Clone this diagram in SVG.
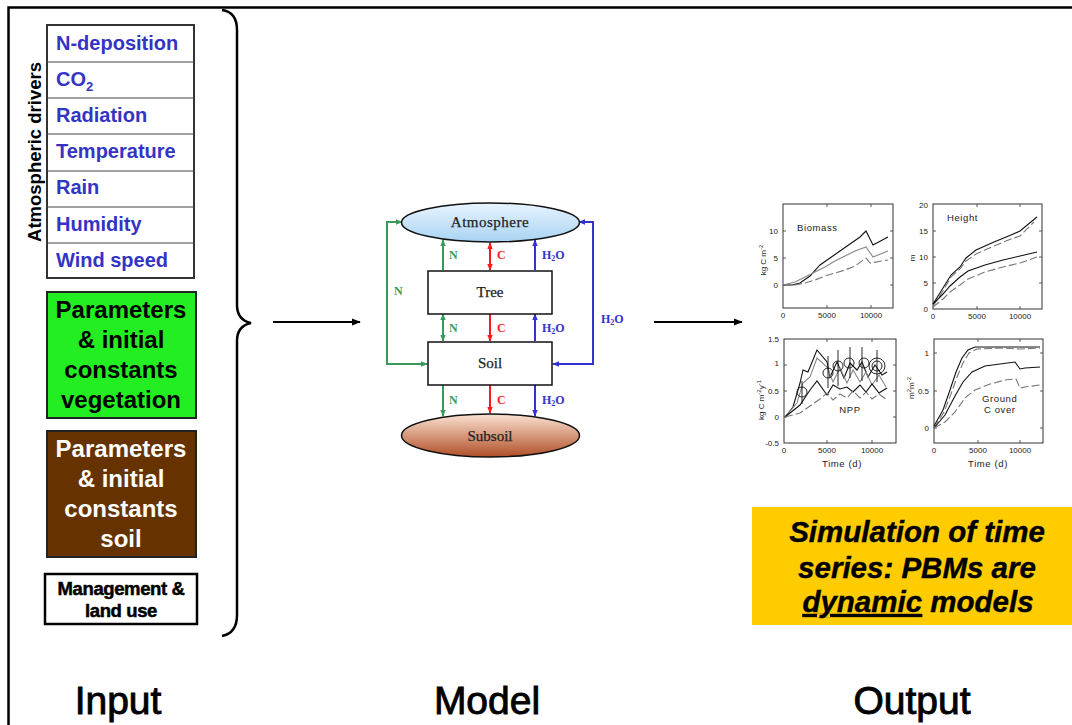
<svg xmlns="http://www.w3.org/2000/svg" width="1072" height="725" viewBox="0 0 1072 725">
<style>
.drv{font-family:"Liberation Sans",Arial,sans-serif;font-weight:bold;font-size:20px;fill:#3434c4}
.par{font-family:"Liberation Sans",Arial,sans-serif;font-weight:bold;font-size:24px;text-anchor:middle}
.big{font-family:"Liberation Sans",Arial,sans-serif;font-size:39px;text-anchor:middle;fill:#000;stroke:#000;stroke-width:0.9}
.mod{font-family:"Liberation Serif","Times New Roman",serif;font-size:15px;text-anchor:middle;fill:#222;stroke:#222;stroke-width:0.25}
.fl{font-family:"Liberation Serif","Times New Roman",serif;font-weight:bold;font-size:12px}
.tk{font-family:"Liberation Sans",Arial,sans-serif;font-size:8px;fill:#222}
.lb{font-family:"Liberation Sans",Arial,sans-serif;font-size:9.5px;fill:#222;letter-spacing:0.6px}
.ax{fill:#fff;stroke:#333;stroke-width:1}
.cb{fill:none;stroke:#111;stroke-width:1.1}
.cg{fill:none;stroke:#888;stroke-width:1.1}
.cd{fill:none;stroke:#777;stroke-width:1.1;stroke-dasharray:8 3}
</style>
<defs>
<marker id="ag" viewBox="0 0 10 10" refX="9" refY="5" markerWidth="7" markerHeight="7" markerUnits="userSpaceOnUse" orient="auto-start-reverse"><path d="M0,1 L10,5 L0,9 z" fill="#3a9a5b"/></marker>
<marker id="ar" viewBox="0 0 10 10" refX="9" refY="5" markerWidth="7" markerHeight="7" markerUnits="userSpaceOnUse" orient="auto-start-reverse"><path d="M0,1 L10,5 L0,9 z" fill="#ff1a1a"/></marker>
<marker id="ab" viewBox="0 0 10 10" refX="9" refY="5" markerWidth="7" markerHeight="7" markerUnits="userSpaceOnUse" orient="auto-start-reverse"><path d="M0,1 L10,5 L0,9 z" fill="#3333cc"/></marker>
<marker id="ak" viewBox="0 0 10 10" refX="9" refY="5" markerWidth="9" markerHeight="9" markerUnits="userSpaceOnUse" orient="auto"><path d="M0,1 L10,5 L0,9 z" fill="#000"/></marker>
<linearGradient id="gAtm" x1="0" y1="0" x2="0" y2="1"><stop offset="0" stop-color="#e8f4ff"/><stop offset="1" stop-color="#a9d3f2"/></linearGradient>
<linearGradient id="gSub" x1="0" y1="0" x2="0" y2="1"><stop offset="0" stop-color="#fbe2d2"/><stop offset="1" stop-color="#b04f28"/></linearGradient>
</defs>
<rect width="1072" height="725" fill="#fff"/>
<!-- frame -->
<path d="M8.5 725 L8.5 7.5 L1072 7.5" fill="none" stroke="#000" stroke-width="2.5"/>

<!-- Input column -->
<g id="atmospheric-drivers">
<rect x="47" y="25" width="147" height="253" fill="#fff" stroke="#333" stroke-width="2"/>
<g stroke="#444" stroke-width="1.2">
<line x1="47" y1="62" x2="194" y2="62"/><line x1="47" y1="98" x2="194" y2="98"/><line x1="47" y1="134" x2="194" y2="134"/><line x1="47" y1="171" x2="194" y2="171"/><line x1="47" y1="207" x2="194" y2="207"/><line x1="47" y1="243" x2="194" y2="243"/>
</g>
<text class="drv" x="56" y="50">N-deposition</text>
<text class="drv" x="56" y="86">CO<tspan font-size="13" dy="5">2</tspan></text>
<text class="drv" x="56" y="122">Radiation</text>
<text class="drv" x="56" y="158">Temperature</text>
<text class="drv" x="56" y="194">Rain</text>
<text class="drv" x="56" y="231">Humidity</text>
<text class="drv" x="56" y="267">Wind speed</text>
<text transform="translate(41,152) rotate(-90)" text-anchor="middle" font-family="Liberation Sans,Arial,sans-serif" font-weight="bold" font-size="18.5" fill="#000">Atmospheric drivers</text>
</g>
<g id="params-vegetation">
<rect x="47" y="292" width="149" height="126" fill="#22ee22" stroke="#222" stroke-width="2"/>
<text class="par" x="121" y="318" fill="#000">Parameters</text>
<text class="par" x="121" y="348" fill="#000">&amp; initial</text>
<text class="par" x="121" y="378" fill="#000">constants</text>
<text class="par" x="121" y="408" fill="#000">vegetation</text>
</g>
<g id="params-soil">
<rect x="47" y="431" width="149" height="126" fill="#663300" stroke="#222" stroke-width="2"/>
<text class="par" x="121" y="457" fill="#fff">Parameters</text>
<text class="par" x="121" y="487" fill="#fff">&amp; initial</text>
<text class="par" x="121" y="517" fill="#fff">constants</text>
<text class="par" x="121" y="547" fill="#fff">soil</text>
</g>
<g id="management">
<rect x="45" y="574" width="152" height="50" fill="#fff" stroke="#000" stroke-width="2.5"/>
<g font-family="Liberation Sans,Arial,sans-serif" font-weight="bold" font-size="18.5" letter-spacing="-0.4" fill="#000" stroke="#000" stroke-width="0.5" text-anchor="middle">
<text x="121" y="595">Management &amp;</text>
<text x="121" y="617">land use</text>
</g>
</g>
<g id="brace">
<path d="M222 10 Q237 12 237 30 L237 305 Q237 320 251 323 Q237 326 237 341 L237 615 Q237 633 222 636" fill="none" stroke="#000" stroke-width="2.5"/>
</g>

<!-- main arrows -->
<g id="connectors">
<line x1="273" y1="322" x2="360" y2="322" stroke="#000" stroke-width="2" marker-end="url(#ak)"/>
<line x1="654" y1="322" x2="742" y2="322" stroke="#000" stroke-width="2" marker-end="url(#ak)"/>
<!-- model flows -->
<g stroke-width="2" fill="none">
<line x1="443" y1="270" x2="443" y2="240" stroke="#3a9a5b" marker-end="url(#ag)"/>
<line x1="490" y1="270" x2="490" y2="243" stroke="#ff1a1a" marker-start="url(#ar)" marker-end="url(#ar)"/>
<line x1="535" y1="270" x2="535" y2="240" stroke="#3333cc" marker-end="url(#ab)"/>
<line x1="443" y1="314" x2="443" y2="341" stroke="#3a9a5b" marker-start="url(#ag)" marker-end="url(#ag)"/>
<line x1="490" y1="314" x2="490" y2="341" stroke="#ff1a1a" marker-end="url(#ar)"/>
<line x1="535" y1="341" x2="535" y2="314" stroke="#3333cc" marker-end="url(#ab)"/>
<line x1="443" y1="385" x2="443" y2="416" stroke="#3a9a5b" marker-end="url(#ag)"/>
<line x1="490" y1="385" x2="490" y2="413" stroke="#ff1a1a" marker-end="url(#ar)"/>
<line x1="535" y1="385" x2="535" y2="416" stroke="#3333cc" marker-end="url(#ab)"/>
<path d="M402 222 L387 222 L387 364 L427 364" stroke="#3a9a5b" marker-start="url(#ag)" marker-end="url(#ag)"/>
<path d="M579 222 L593 222 L593 364 L553 364" stroke="#3333cc" marker-start="url(#ab)" marker-end="url(#ab)"/>
</g>
<g class="fl">
<text x="449" y="259" fill="#3a9a5b">N</text>
<text x="497" y="259" fill="#ff1a1a">C</text>
<text x="542" y="259" fill="#3333cc">H<tspan font-size="8" dy="2">2</tspan><tspan dy="-2">O</tspan></text>
<text x="449" y="332" fill="#3a9a5b">N</text>
<text x="497" y="332" fill="#ff1a1a">C</text>
<text x="542" y="332" fill="#3333cc">H<tspan font-size="8" dy="2">2</tspan><tspan dy="-2">O</tspan></text>
<text x="449" y="404" fill="#3a9a5b">N</text>
<text x="497" y="404" fill="#ff1a1a">C</text>
<text x="542" y="404" fill="#3333cc">H<tspan font-size="8" dy="2">2</tspan><tspan dy="-2">O</tspan></text>
<text x="394" y="295" fill="#3a9a5b">N</text>
<text x="601" y="323" fill="#3333cc">H<tspan font-size="8" dy="2">2</tspan><tspan dy="-2">O</tspan></text>
</g>
</g>

<!-- Model nodes -->
<g id="atmosphere">
<ellipse cx="490.5" cy="222.5" rx="89" ry="19.5" fill="url(#gAtm)" stroke="#111" stroke-width="1.5"/>
<text class="mod" x="490" y="227" letter-spacing="0.5">Atmosphere</text>
</g>
<g id="tree">
<rect x="428" y="271" width="124" height="43" fill="#fff" stroke="#111" stroke-width="1.5"/>
<text class="mod" x="490" y="297">Tree</text>
</g>
<g id="soil">
<rect x="428" y="342" width="124" height="43" fill="#fff" stroke="#111" stroke-width="1.5"/>
<text class="mod" x="490" y="368">Soil</text>
</g>
<g id="subsoil">
<ellipse cx="490.5" cy="435.5" rx="89" ry="21.5" fill="url(#gSub)" stroke="#111" stroke-width="1.5"/>
<text class="mod" x="490" y="441">Subsoil</text>
</g>

<!-- Charts -->
<g id="chart-biomass">
<rect class="ax" x="783" y="204" width="110" height="104"/>
<g stroke="#333" stroke-width="0.8">
<line x1="783" y1="231" x2="786" y2="231"/><line x1="783" y1="258" x2="786" y2="258"/><line x1="783" y1="285" x2="786" y2="285"/>
<line x1="893" y1="231" x2="890" y2="231"/><line x1="893" y1="258" x2="890" y2="258"/><line x1="893" y1="285" x2="890" y2="285"/>
<line x1="827" y1="308" x2="827" y2="305"/><line x1="871" y1="308" x2="871" y2="305"/><line x1="827" y1="204" x2="827" y2="207"/><line x1="871" y1="204" x2="871" y2="207"/>
</g>
<text class="tk" x="778" y="234" text-anchor="end">10</text>
<text class="tk" x="778" y="261" text-anchor="end">5</text>
<text class="tk" x="778" y="288" text-anchor="end">0</text>
<text class="tk" x="783" y="318" text-anchor="middle">0</text>
<text class="tk" x="827" y="318" text-anchor="middle">5000</text>
<text class="tk" x="871" y="318" text-anchor="middle">10000</text>
<text class="lb" x="797" y="231">Biomass</text>
<text class="tk" transform="translate(766,260) rotate(-90)" text-anchor="middle">kg C m<tspan font-size="6" dy="-3">-2</tspan></text>
<polyline class="cb" points="783,285 792,285 800,283 810,276 820,265 830,258 840,251 850,244 860,237 866,231 873,245 888,237"/>
<polyline class="cg" points="783,285 795,282 805,277 815,272 825,267 835,261 845,256 855,251 866,247 873,257 888,251"/>
<polyline class="cd" points="783,285 795,285 805,283 815,280 825,276 835,273 845,270 855,266 866,258 870,263 888,260"/>
</g>

<g id="chart-height">
<rect class="ax" x="933" y="204" width="109" height="105"/>
<g stroke="#333" stroke-width="0.8">
<line x1="933" y1="231" x2="936" y2="231"/><line x1="933" y1="257" x2="936" y2="257"/><line x1="933" y1="283" x2="936" y2="283"/>
<line x1="1042" y1="231" x2="1039" y2="231"/><line x1="1042" y1="257" x2="1039" y2="257"/><line x1="1042" y1="283" x2="1039" y2="283"/>
<line x1="977" y1="309" x2="977" y2="306"/><line x1="1020" y1="309" x2="1020" y2="306"/><line x1="977" y1="204" x2="977" y2="207"/><line x1="1020" y1="204" x2="1020" y2="207"/>
</g>
<text class="tk" x="928" y="208" text-anchor="end">20</text>
<text class="tk" x="928" y="234" text-anchor="end">15</text>
<text class="tk" x="928" y="260" text-anchor="end">10</text>
<text class="tk" x="928" y="286" text-anchor="end">5</text>
<text class="tk" x="928" y="312" text-anchor="end">0</text>
<text class="tk" x="933" y="319" text-anchor="middle">0</text>
<text class="tk" x="977" y="319" text-anchor="middle">5000</text>
<text class="tk" x="1020" y="319" text-anchor="middle">10000</text>
<text class="lb" x="947" y="221">Height</text>
<text class="tk" transform="translate(915,258) rotate(-90)" text-anchor="middle">m</text>
<polyline class="cb" points="933,304 943,288 951,275 960,267 966,258 976,250 994,242 1011,235 1020,231 1037,217"/>
<polyline class="cd" points="933,306 943,291 951,277 960,269 966,261 976,254 994,246 1011,239 1020,236 1034,222"/>
<polyline class="cb" points="933,304 943,294 950,286 960,277 968,271 985,265 1003,260 1020,256 1037,252"/>
<polyline class="cd" points="933,307 943,299 950,292 960,285 968,279 985,272 1003,267 1020,263 1037,257"/>
</g>

<g id="chart-npp">
<rect class="ax" x="784" y="339" width="112" height="104"/>
<g stroke="#333" stroke-width="0.8">
<line x1="784" y1="365" x2="787" y2="365"/><line x1="784" y1="391" x2="787" y2="391"/><line x1="784" y1="417" x2="787" y2="417"/>
<line x1="896" y1="365" x2="893" y2="365"/><line x1="896" y1="391" x2="893" y2="391"/><line x1="896" y1="417" x2="893" y2="417"/>
<line x1="827" y1="443" x2="827" y2="440"/><line x1="872" y1="443" x2="872" y2="440"/><line x1="827" y1="339" x2="827" y2="342"/><line x1="872" y1="339" x2="872" y2="342"/>
</g>
<text class="tk" x="779" y="342" text-anchor="end">1.5</text>
<text class="tk" x="779" y="366" text-anchor="end">1</text>
<text class="tk" x="779" y="394" text-anchor="end">0.5</text>
<text class="tk" x="779" y="420" text-anchor="end">0</text>
<text class="tk" x="779" y="446" text-anchor="end">-0.5</text>
<text class="tk" x="784" y="453" text-anchor="middle">0</text>
<text class="tk" x="827" y="453" text-anchor="middle">5000</text>
<text class="tk" x="872" y="453" text-anchor="middle">10000</text>
<text class="lb" x="842" y="467" text-anchor="middle">Time (d)</text>
<text class="lb" x="850" y="413" text-anchor="middle">NPP</text>
<text class="tk" transform="translate(764,400) rotate(-90)" text-anchor="middle">kg C m<tspan font-size="6" dy="-3">-2</tspan><tspan dy="3">y</tspan><tspan font-size="6" dy="-3">-1</tspan></text>
<polyline class="cb" points="785,417 793,407 800,383 803,370 808,372 817,350 827,362 830,377 837,362 844,378 850,363 857,370 862,362 868,377 875,365 882,375 887,372"/>
<polyline class="cg" points="785,417 797,403 803,383 810,377 817,358 827,367 833,382 840,368 847,383 853,370 860,382 866,372 872,385 879,375 886,387"/>
<polyline class="cb" points="785,417 800,405 810,390 817,381 827,395 833,385 840,389 847,387 853,392 860,385 866,392 872,384 879,393 887,388"/>
<polyline class="cd" points="785,417 800,413 810,406 820,399 827,393 833,400 840,394 847,398 853,391 860,398 866,392 872,399 879,394 887,400"/>
<g fill="none" stroke="#111" stroke-width="0.9">
<line x1="802" y1="381" x2="802" y2="404"/><circle cx="802" cy="392" r="5"/>
<line x1="828" y1="356" x2="828" y2="388"/><circle cx="828" cy="373" r="5"/>
<line x1="838" y1="350" x2="838" y2="386"/><circle cx="838" cy="366" r="5"/>
<line x1="850" y1="347" x2="850" y2="378"/><circle cx="849" cy="363" r="5"/>
<line x1="862" y1="347" x2="862" y2="381"/><circle cx="864" cy="363" r="5"/>
<line x1="877" y1="350" x2="877" y2="382"/><circle cx="877" cy="366" r="5"/><circle cx="877" cy="366" r="8"/>
</g>
</g>

<g id="chart-groundcover">
<rect class="ax" x="934" y="339" width="109" height="104"/>
<g stroke="#333" stroke-width="0.8">
<line x1="934" y1="353" x2="937" y2="353"/><line x1="934" y1="391" x2="937" y2="391"/><line x1="934" y1="428" x2="937" y2="428"/>
<line x1="1043" y1="353" x2="1040" y2="353"/><line x1="1043" y1="391" x2="1040" y2="391"/><line x1="1043" y1="428" x2="1040" y2="428"/>
<line x1="978" y1="443" x2="978" y2="440"/><line x1="1020" y1="443" x2="1020" y2="440"/><line x1="978" y1="339" x2="978" y2="342"/><line x1="1020" y1="339" x2="1020" y2="342"/>
</g>
<text class="tk" x="929" y="356" text-anchor="end">1</text>
<text class="tk" x="929" y="394" text-anchor="end">0.5</text>
<text class="tk" x="929" y="431" text-anchor="end">0</text>
<text class="tk" x="934" y="453" text-anchor="middle">0</text>
<text class="tk" x="978" y="453" text-anchor="middle">5000</text>
<text class="tk" x="1020" y="453" text-anchor="middle">10000</text>
<text class="lb" x="988" y="467" text-anchor="middle">Time (d)</text>
<text class="lb" x="982" y="402">Ground</text>
<text class="lb" x="984" y="413">C over</text>
<text class="tk" transform="translate(914,388) rotate(-90)" text-anchor="middle">m<tspan font-size="6" dy="-3">2</tspan><tspan dy="3">m</tspan><tspan font-size="6" dy="-3">-2</tspan></text>
<polyline class="cb" points="934,426 943,410 950,390 956,372 962,358 968,350 975,347 1000,347 1020,347 1040,347"/>
<polyline class="cd" points="934,428 944,412 951,394 957,377 963,363 969,353 977,349 1000,348 1020,349 1040,348"/>
<polyline class="cb" points="934,428 945,415 955,396 963,382 972,372 985,366 1000,364 1015,362 1020,369 1025,368 1040,367"/>
<polyline class="cd" points="934,428 945,422 955,412 965,398 975,390 990,384 1005,380 1016,379 1020,388 1025,387 1040,385"/>
</g>

<g id="simulation-note">
<rect x="752" y="507" width="320" height="118" fill="#ffcc00"/>
<g font-family="Liberation Sans,Arial,sans-serif" font-weight="bold" font-style="italic" font-size="29.5" text-anchor="middle" fill="#000" stroke="#000" stroke-width="0.4">
<text x="917" y="542">Simulation of time</text>
<text x="917" y="578">series: PBMs are</text>
<text x="918" y="612"><tspan text-decoration="underline">dynamic</tspan> models</text>
</g>
</g>

<!-- section titles -->
<text class="big" x="118" y="714">Input</text>
<text class="big" x="487" y="714">Model</text>
<text class="big" x="912" y="714">Output</text>
</svg>
